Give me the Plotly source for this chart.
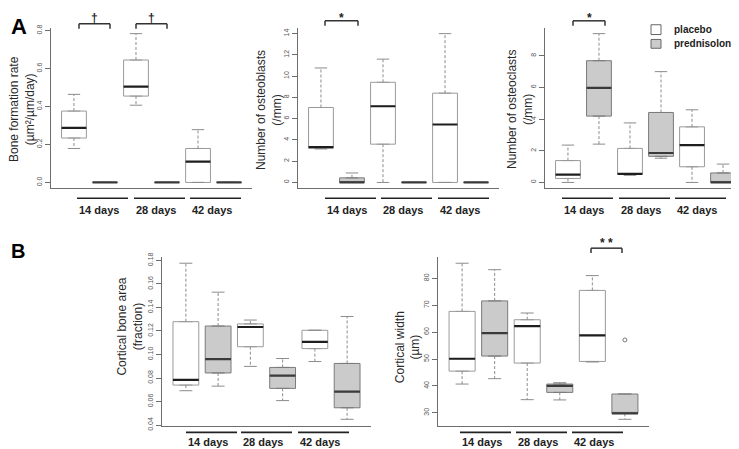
import plotly.graph_objects as go

W, H = 739, 449

# box positions: placebo at 1, 3, 5 and prednisolone at 2, 4, 6
positions = [1, 2, 3, 4, 5, 6]
groups = ["placebo", "prednisolone", "placebo", "prednisolone", "placebo", "prednisolone"]
day_labels = ["14 days", "28 days", "42 days"]

# A1 bone formation rate
bfr_low = [0.179, 0, 0.407, 0, 0, 0]
bfr_q1 = [0.234, 0, 0.455, 0, 0, 0]
bfr_med = [0.288, 0, 0.505, 0, 0.110, 0]
bfr_q3 = [0.376, 0, 0.645, 0, 0.179, 0]
bfr_high = [0.464, 0, 0.784, 0, 0.278, 0]

# A2 number of osteoblasts
ob_low = [3.15, 0, 0, 0, 0, 0]
ob_q1 = [3.22, 0, 3.6, 0, 0, 0]
ob_med = [3.32, 0, 7.17, 0, 5.45, 0]
ob_q3 = [7.05, 0.43, 9.42, 0, 8.4, 0]
ob_high = [10.77, 0.89, 11.6, 0, 14.0, 0]

# A3 number of osteoclasts
oc_low = [0, 2.42, 0.45, 1.53, 0, 0]
oc_q1 = [0.25, 4.19, 0.5, 1.65, 0.99, 0]
oc_med = [0.5, 5.97, 0.54, 1.86, 2.36, 0]
oc_q3 = [1.38, 7.69, 2.15, 4.42, 3.51, 0.6]
oc_high = [2.36, 9.4, 3.76, 7.0, 4.59, 1.16]

# B1 cortical bone area
cba_low = [0.0692, 0.0731, 0.0899, 0.0608, 0.094, 0.0449]
cba_q1 = [0.074, 0.0843, 0.1066, 0.0712, 0.105, 0.0547]
cba_med = [0.0784, 0.096, 0.1234, 0.082, 0.1108, 0.0684]
cba_q3 = [0.1279, 0.1242, 0.126, 0.089, 0.1206, 0.0924]
cba_high = [0.1776, 0.153, 0.1293, 0.0966, 0.1206, 0.1323]

# B2 cortical width
cw_low = [40.7, 42.7, 34.9, 34.8, 48.9, 27.6]
cw_q1 = [45.5, 51.1, 48.5, 37.6, 49.1, 29.8]
cw_med = [50.1, 59.6, 62.2, 40.0, 58.8, 29.8]
cw_q3 = [67.7, 71.6, 64.6, 40.7, 75.5, 37.0]
cw_high = [85.6, 83.2, 67.1, 41.2, 81.0, 37.0]
cw_outlier_x = [6]
cw_outlier_y = [57.1]

FONT = "Liberation Sans, Arial, sans-serif"
FILL = {"placebo": "#ffffff", "prednisolone": "#cbcbcb"}
EDGE = {"placebo": "#9a9a9a", "prednisolone": "#7a7a7a"}
MEDIAN = {"placebo": "#1e1e1e", "prednisolone": "#3a3a3a"}


def px_x(v):
    return v / W


def px_y(v):
    return 1 - v / H


# pixel geometry of each panel: left, right, top, bottom
panels = [
    dict(name="1", box=(43, 244, 16, 180), data=(bfr_low, bfr_q1, bfr_med, bfr_q3, bfr_high),
         dtick=0.2, fmt=".1f", title="Bone formation rate<br>(µm²/µm/day)", title_xy=(14, 99),
         lines=[69, 126, 182], line_y=190, label_dy=12),
    dict(name="2", box=(290, 491, 16, 180), data=(ob_low, ob_q1, ob_med, ob_q3, ob_high),
         dtick=2, fmt="d", title="Number of osteoblasts<br>(/mm)", title_xy=(261, 100),
         lines=[317, 373, 430], line_y=190, label_dy=12),
    dict(name="3", box=(537, 738, 16, 180), data=(oc_low, oc_q1, oc_med, oc_q3, oc_high),
         dtick=2, fmt="d", title="Number of osteoclasts<br>(/mm)", title_xy=(512, 100),
         lines=[554, 611, 667], line_y=190, label_dy=12),
    dict(name="4", box=(154, 363, 250, 422), data=(cba_low, cba_q1, cba_med, cba_q3, cba_high),
         dtick=0.02, fmt=".2f", title="Cortical bone area<br>(fraction)", title_xy=(122, 321),
         lines=[178, 233, 290], line_y=429, label_dy=10),
    dict(name="5", box=(430, 641, 250, 422), data=(cw_low, cw_q1, cw_med, cw_q3, cw_high),
         dtick=10, fmt="d", title="Cortical width<br>(µm)", title_xy=(400, 342),
         lines=[452, 508, 564], line_y=429, label_dy=10),
]

fig = go.Figure()
shapes = []
annotations = []

for p in panels:
    xa = "x" if p["name"] == "1" else "x" + p["name"]
    ya = "y" if p["name"] == "1" else "y" + p["name"]
    low, q1, med, q3, high = p["data"]

    for i, pos in enumerate(positions):
        g = groups[i]
        fig.add_trace(go.Box(
            x=[pos], q1=[q1[i]], median=[med[i]], q3=[q3[i]],
            lowerfence=[q1[i]], upperfence=[q3[i]],
            width=0.8, fillcolor=FILL[g], line=dict(color=EDGE[g], width=1),
            boxpoints=False, hoverinfo="skip", showlegend=False,
            xaxis=xa, yaxis=ya,
        ))
        # dashed whiskers
        fig.add_trace(go.Scatter(
            x=[pos, pos, None, pos, pos], y=[q3[i], high[i], None, q1[i], low[i]],
            mode="lines", line=dict(color="#8c8c8c", width=1, dash="3px,2px"),
            hoverinfo="skip", showlegend=False, xaxis=xa, yaxis=ya,
        ))
        # whisker caps
        fig.add_trace(go.Scatter(
            x=[pos - 0.2, pos + 0.2, None, pos - 0.2, pos + 0.2],
            y=[high[i], high[i], None, low[i], low[i]],
            mode="lines", line=dict(color="#8c8c8c", width=1),
            hoverinfo="skip", showlegend=False, xaxis=xa, yaxis=ya,
        ))
        # thick median
        fig.add_trace(go.Scatter(
            x=[pos - 0.4, pos + 0.4], y=[med[i], med[i]],
            mode="lines", line=dict(color=MEDIAN[g], width=2.2),
            hoverinfo="skip", showlegend=False, xaxis=xa, yaxis=ya,
        ))

    all_vals = list(low) + list(high)
    if p["name"] == "5":
        all_vals += cw_outlier_y
        fig.add_trace(go.Scatter(
            x=cw_outlier_x, y=cw_outlier_y, mode="markers",
            marker=dict(symbol="circle-open", size=4, color="#777777", line=dict(width=1)),
            hoverinfo="skip", showlegend=False, xaxis=xa, yaxis=ya,
        ))
    lo, hi = min(all_vals), max(all_vals)
    pad = 0.04 * (hi - lo)

    x0, x1, y0, y1 = p["box"]
    key = "" if p["name"] == "1" else p["name"]
    fig.layout["xaxis" + key] = dict(
        domain=[px_x(x0), px_x(x1)], range=[0.26, 6.74], anchor=ya,
        showline=True, linecolor="#6e6e6e", linewidth=1, showgrid=False,
        zeroline=False, showticklabels=False, ticks="",
    )
    fig.layout["yaxis" + key] = dict(
        domain=[px_y(y1), px_y(y0)], range=[lo - pad, hi + pad], anchor=xa,
        showline=True, linecolor="#6e6e6e", linewidth=1, showgrid=False,
        zeroline=False, ticks="outside", ticklen=5, tickcolor="#6e6e6e",
        dtick=p["dtick"], tick0=0, tickformat=p["fmt"], tickangle=-90,
        tickfont=dict(family=FONT, size=7, color="#555555"),
    )

    tx, ty = p["title_xy"]
    annotations.append(dict(
        x=px_x(tx), y=px_y(ty), xref="paper", yref="paper", text=p["title"],
        textangle=-90, showarrow=False, xanchor="center", yanchor="middle",
        font=dict(family=FONT, size=12, color="#2a2a2a"),
    ))

    for lx, lab in zip(p["lines"], day_labels):
        shapes.append(dict(
            type="line", xref="paper", yref="paper",
            x0=px_x(lx), x1=px_x(lx + 51), y0=px_y(p["line_y"]), y1=px_y(p["line_y"]),
            line=dict(color="#222222", width=1.6),
        ))
        annotations.append(dict(
            x=px_x(lx), y=px_y(p["line_y"] + p["label_dy"]), xref="paper", yref="paper",
            text="<b>" + lab + "</b>",
            showarrow=False, xanchor="left", yanchor="middle",
            font=dict(family=FONT, size=11, color="#222222"),
        ))


def bracket(xl, xr, top, bot, label, label_y):
    for xa0, ya0, xa1, ya1 in [(xl, bot, xl, top), (xl, top, xr, top), (xr, top, xr, bot)]:
        shapes.append(dict(
            type="line", xref="paper", yref="paper",
            x0=px_x(xa0), y0=px_y(ya0), x1=px_x(xa1), y1=px_y(ya1),
            line=dict(color="#333333", width=1.5),
        ))
    annotations.append(dict(
        x=px_x((xl + xr) / 2), y=px_y(label_y), xref="paper", yref="paper", text=label,
        showarrow=False, xanchor="center", yanchor="middle",
        font=dict(family=FONT, size=12, color="#222222"),
    ))


bracket(71, 102, 12, 17, "<b>†</b>", 6)
bracket(128, 159, 12, 17, "<b>†</b>", 6)
bracket(317, 350, 9, 14, "<b>*</b>", 6)
bracket(565, 597, 9, 14, "<b>*</b>", 6)
bracket(583, 614, 241, 246, "<b>* *</b>", 236)

# legend
for g, yt, yb in [("placebo", 13, 23), ("prednisolone", 28, 37)]:
    shapes.append(dict(
        type="rect", xref="paper", yref="paper",
        x0=px_x(643), x1=px_x(653), y0=px_y(yb), y1=px_y(yt),
        fillcolor=FILL[g], line=dict(color="#666666", width=1),
    ))
    annotations.append(dict(
        x=px_x(664), y=px_y((yt + yb) / 2), xref="paper", yref="paper", text="<b>" + g + "</b>",
        showarrow=False, xanchor="left", yanchor="middle",
        font=dict(family=FONT, size=10, color="#222222"),
    ))

# panel letters
annotations.append(dict(x=px_x(1), y=px_y(15), xref="paper", yref="paper", text="<b>A</b>",
                        showarrow=False, xanchor="left", yanchor="middle",
                        font=dict(family=FONT, size=22, color="#000000")))
annotations.append(dict(x=px_x(1), y=px_y(244), xref="paper", yref="paper", text="<b>B</b>",
                        showarrow=False, xanchor="left", yanchor="middle",
                        font=dict(family=FONT, size=20, color="#000000")))

fig.update_layout(
    width=W, height=H, margin=dict(l=0, r=0, t=0, b=0),
    paper_bgcolor="white", plot_bgcolor="white",
    boxmode="overlay", showlegend=False,
    shapes=shapes, annotations=annotations,
)

fig.write_html("out.html")
